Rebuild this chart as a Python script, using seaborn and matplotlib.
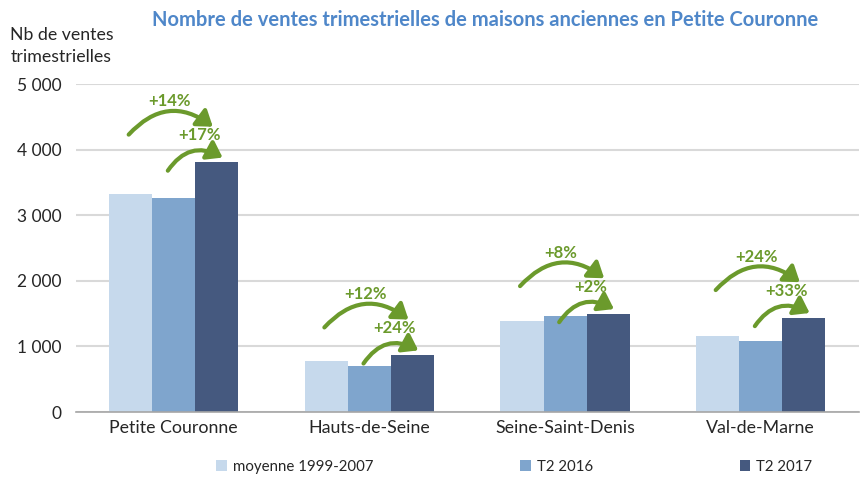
import pandas as pd
import numpy as np
import matplotlib
matplotlib.use("Agg")
import matplotlib.pyplot as plt
import seaborn as sns
from matplotlib.patches import FancyArrowPatch

# Donnees
departements = ["Petite Couronne", "Hauts-de-Seine", "Seine-Saint-Denis", "Val-de-Marne"]
series = ["moyenne 1999-2007", "T2 2016", "T2 2017"]
moyenne_1999_2007 = [3330, 775, 1390, 1155]
t2_2016 = [3260, 700, 1470, 1080]
t2_2017 = [3810, 870, 1500, 1440]
evol_vs_moyenne = ["+14%", "+12%", "+8%", "+24%"]
evol_vs_2016 = ["+17%", "+24%", "+2%", "+33%"]

colors = ["#c6d9ec", "#7fa5cd", "#45597f"]
green = "#6b9a2c"
title_blue = "#4f87c9"

df = pd.DataFrame({
    "departement": departements * 3,
    "serie": np.repeat(series, len(departements)),
    "ventes": moyenne_1999_2007 + t2_2016 + t2_2017,
})

sns.set_style("white")
plt.rcParams["font.family"] = ["Lato", "DejaVu Sans"]

fig = plt.figure(figsize=(8.62, 4.78), dpi=100)
ax = fig.add_axes([0.088, 0.138, 0.908, 0.686])

width = 0.66
sns.barplot(data=df, x="departement", y="ventes", hue="serie", palette=colors,
            width=width, gap=0, edgecolor="none", saturation=1, ax=ax, legend=True)

ax.set_ylim(0, 5000)
ax.set_xlim(-0.5, len(departements) - 0.5)
ax.set_yticks(range(0, 5001, 1000))
ax.set_yticklabels([f"{v:,}".replace(",", " ") for v in range(0, 5001, 1000)], fontsize=12.5)
ax.tick_params(axis="x", labelsize=12.8, length=0, pad=6)
ax.tick_params(axis="y", length=0, pad=10)
ax.yaxis.grid(True, color="#d9d9d9", linewidth=1.5)
ax.set_axisbelow(True)
for s in ["top", "right", "left"]:
    ax.spines[s].set_visible(False)
ax.spines["bottom"].set_color("#a6a6a6")
ax.spines["bottom"].set_linewidth(1.2)
ax.set_xlabel("")
ax.set_ylabel("")

# fleches d'evolution
bw = width / 3
head = "-|>,head_length=5,head_width=3.5"
for i, dep in enumerate(departements):
    top = t2_2017[i]
    x_light, x_mid, x_dark = i - bw, i, i + bw
    up = FancyArrowPatch((x_light - 0.01, top + 420), (x_dark - 0.02, top + 540),
                         connectionstyle="arc3,rad=-0.45", arrowstyle=head,
                         color=green, lw=3, mutation_scale=1.8, shrinkA=0, shrinkB=0)
    ax.add_patch(up)
    ax.text((x_light + x_dark) / 2 - 0.02, top + 930, evol_vs_moyenne[i], color=green,
            fontsize=12, fontweight="bold", ha="center", va="center")
    low = FancyArrowPatch((x_mid - 0.03, top - 130), (x_dark + 0.03, top + 70),
                          connectionstyle="arc3,rad=-0.45", arrowstyle=head,
                          color=green, lw=3, mutation_scale=1.8, shrinkA=0, shrinkB=0)
    ax.add_patch(low)
    ax.text((x_mid + x_dark) / 2 + 0.02, top + 410, evol_vs_2016[i], color=green,
            fontsize=12, fontweight="bold", ha="center", va="center")

leg = ax.legend(loc="upper center", bbox_to_anchor=(0.56, -0.105), ncol=3, frameon=False,
                fontsize=10.8, handlelength=0.7, handleheight=0.7, handletextpad=0.4,
                columnspacing=9.8)

fig.text(0.563, 0.958, "Nombre de ventes trimestrielles de maisons anciennes en Petite Couronne",
         color=title_blue, fontsize=14.5, fontweight="bold", ha="center", va="center")
fig.text(0.012, 0.903, "Nb de ventes\ntrimestrielles", fontsize=12.8, ha="left", va="center",
         linespacing=1.45)

fig.savefig("out.png", dpi=100)
